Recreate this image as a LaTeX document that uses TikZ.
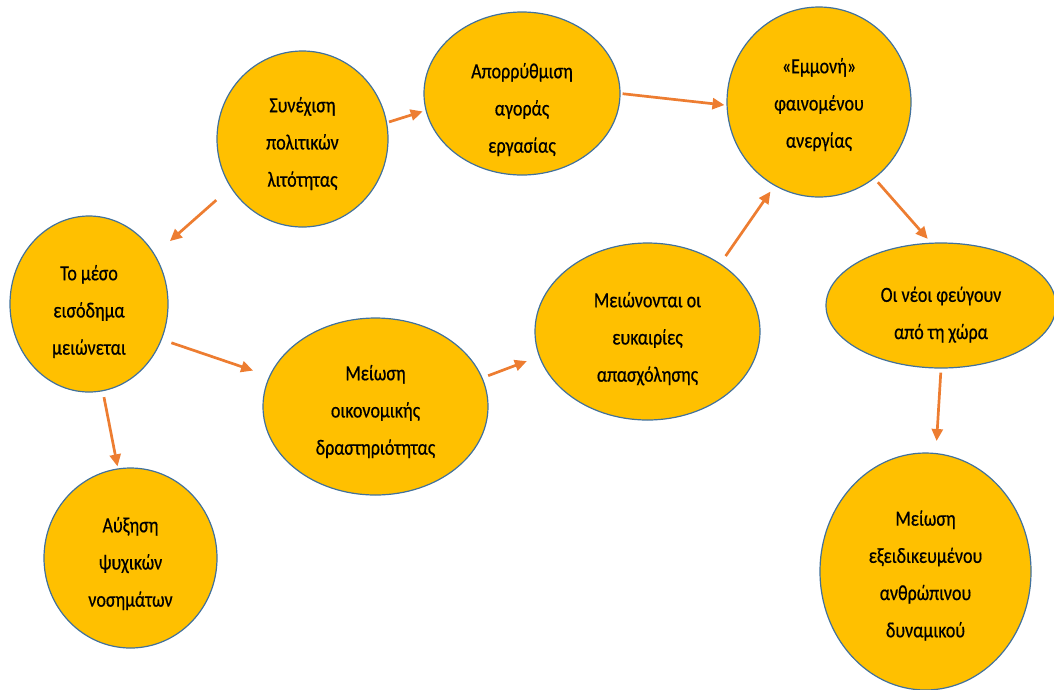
\documentclass[tikz,border=0pt]{standalone}
\usepackage{fontspec}
\setmainfont{Carlito}
\usepackage{graphicx}
\usetikzlibrary{shapes.geometric,arrows.meta}
\definecolor{goldc}{HTML}{FFC000}
\definecolor{bordc}{HTML}{41719C}
\definecolor{arrc}{HTML}{ED7D31}
\newcommand{\ltxt}[1]{\scalebox{1}[1.2]{\fontsize{18}{31}\selectfont\addfontfeature{FakeBold=0.6}\begin{tabular}{@{}c@{}}#1\end{tabular}}}
\tikzset{
  ell/.style={ellipse, draw=bordc, line width=1.2pt, fill=goldc, inner sep=0pt},
  txt/.style={inner sep=0pt, text=black},
  arr/.style={draw=arrc, line width=2.7pt, -{Triangle[length=12pt,width=11pt]}}
}
\begin{document}
\begin{tikzpicture}[x=1pt,y=-1pt]
\useasboundingbox (0,0) rectangle (1054,689);
% ellipses
\node[ell, minimum width=171, minimum height=176] (syn) at (302.5,139) {};
\node[ell, minimum width=196, minimum height=163] (apo) at (522,93.5) {};
\node[ell, minimum width=184, minimum height=190] (emm) at (819,102) {};
\node[ell, minimum width=158, minimum height=176] (meso) at (89,304) {};
\node[ell, minimum width=173, minimum height=180] (afx) at (130.5,558) {};
\node[ell, minimum width=225, minimum height=177] (oik) at (375.5,406.5) {};
\node[ell, minimum width=225, minimum height=177] (eyk) at (647.5,331.5) {};
\node[ell, minimum width=230, minimum height=125] (neoi) at (941,305.5) {};
\node[ell, minimum width=211, minimum height=237] (exe) at (925.5,571.5) {};
% texts
\node[txt] (syn-t) at (302.5,142) {\ltxt{Συνέχιση\\πολιτικών\\λιτότητας}};
\node[txt] (apo-t) at (522,108) {\ltxt{Απορρύθμιση\\αγοράς\\εργασίας}};
\node[txt] (emm-t) at (819,103) {\ltxt{«Εμμονή»\\φαινομένου\\ανεργίας}};
\node[txt] (meso-t) at (89,310) {\ltxt{Το μέσο\\εισόδημα\\μειώνεται}};
\node[txt] (afx-t) at (130.5,562) {\ltxt{Αύξηση\\ψυχικών\\νοσημάτων}};
\node[txt] (oik-t) at (375.5,410) {\ltxt{Μείωση\\οικονομικής\\δραστηριότητας}};
\node[txt] (eyk-t) at (647.5,337) {\ltxt{Μειώνονται οι\\ευκαιρίες\\απασχόλησης}};
\node[txt] (neoi-t) at (941,313) {\ltxt{Οι νέοι φεύγουν\\από τη χώρα}};
\node[txt] (exe-t) at (925.5,574) {\ltxt{Μείωση\\εξειδικευμένου\\ανθρώπινου\\δυναμικού}};
% arrows
\draw[arr, shorten <=19pt, shorten >=20pt] (syn.214) -- (meso.37);
\draw[arr, shorten <=2pt, shorten >=3pt] (syn.11) -- (apo.190);
\draw[arr, shorten <=2pt, shorten >=2pt] (apo.0) -- (emm.182);
\draw[arr, shorten <=5pt, shorten >=5pt] (emm.-54) -- (neoi.99);
\draw[arr, shorten <=10pt, shorten >=17pt] (meso.-26) -- (oik.164);
\draw[arr, shorten <=6pt, shorten >=2pt] (meso.-81) -- (afx.98);
\draw[arr, shorten <=6pt, shorten >=13pt] (oik.15) -- (eyk.193);
\draw[arr, shorten <=9pt, shorten >=7pt] (eyk.43) -- (emm.242);
\draw[arr, shorten <=4pt, shorten >=12pt] (neoi.-90) -- (exe.85);
\end{tikzpicture}
\end{document}
